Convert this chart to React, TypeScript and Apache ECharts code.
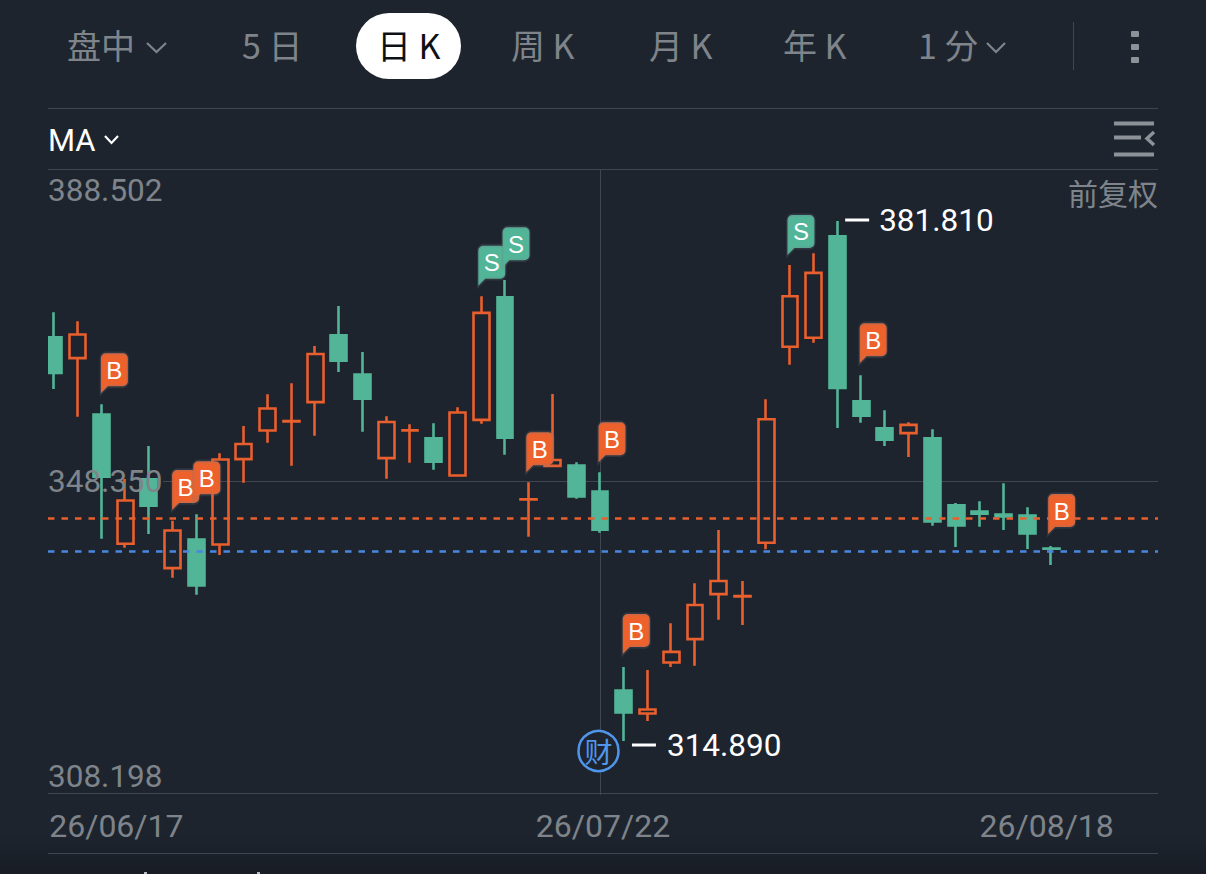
import React, { useEffect, useRef } from "react";
import * as echarts from "echarts";

const BG = "#1d242e";
const UP = "#e95f2d";
const DOWN = "#52b597";
const GREY = "#7f848b";
const RULE = "#3f4650";
const LATIN = "Roboto, 'Liberation Sans', sans-serif";
const FLAG_FONT = "'Liberation Sans', sans-serif";
const CJK = "'Noto Sans CJK SC', sans-serif";

const dates = [
  "26/06/17","26/06/18","26/06/22","26/06/23","26/06/24","26/06/25","26/06/26","26/06/29","26/06/30",
  "26/07/01","26/07/02","26/07/06","26/07/07","26/07/08","26/07/09","26/07/10","26/07/13","26/07/14",
  "26/07/15","26/07/16","26/07/17","26/07/20","26/07/21","26/07/22","26/07/23","26/07/24","26/07/27",
  "26/07/28","26/07/29","26/07/30","26/07/31","26/08/03","26/08/04","26/08/05","26/08/06","26/08/07",
  "26/08/10","26/08/11","26/08/12","26/08/13","26/08/14","26/08/17","26/08/18",
];
const futureSlots = ["26/08/19", "26/08/20", "26/08/21", "26/08/24"];

// [open, close, low, high]
const candles = [
  [366.85,362.27,360.19,370.06],[364.16,367.20,356.62,368.90],[356.91,348.89,340.92,358.22],
  [340.27,345.84,339.76,348.61],[348.58,345.16,341.53,352.85],[337.14,341.98,335.90,343.24],
  [340.82,334.90,333.72,344.06],[340.18,351.12,338.83,351.91],[351.17,353.12,348.13,355.43],
  [354.85,357.68,353.28,359.51],[356.02,356.05,350.32,360.92],[358.50,364.70,354.18,365.72],
  [367.11,363.82,362.38,370.87],[362.05,358.93,354.69,364.95],[351.30,355.95,348.64,356.67],
  [354.86,354.89,350.70,355.65],[353.86,350.82,349.80,355.77],[349.06,357.16,349.06,357.83],
  [356.22,369.98,355.72,372.12],[372.00,353.91,351.73,374.22],[345.98,346.01,341.18,348.18],
  [350.30,351.06,350.30,359.54],[350.34,346.35,346.07,350.76],[347.00,342.07,341.70,349.47],
  [321.39,318.56,314.89,324.41],[318.43,318.94,317.46,324.03],[324.99,326.36,324.41,330.04],
  [328.00,332.40,324.58,335.18],[333.79,335.49,330.50,342.04],[333.50,333.53,329.82,335.48],
  [340.40,356.30,339.56,358.86],[365.62,372.13,363.32,376.15],[366.78,375.13,366.15,377.65],
  [379.85,360.34,355.17,381.81],[358.62,356.74,355.85,361.95],[355.14,353.65,352.85,357.45],
  [354.51,355.57,351.44,355.90],[353.86,343.14,342.60,355.00],[345.23,342.62,339.86,345.52],
  [344.42,344.13,342.47,345.74],[344.04,343.78,342.04,348.05],[343.91,341.59,339.60,344.96],
  [339.67,339.65,337.54,339.98],
];

const yMin = 308.198;
const yMid = 348.35;
const yMax = 388.502;
const yTicks = [yMin, yMid, yMax];
const orangeLevel = 343.52;
const blueLevel = 339.34;
const highMark = 381.81;
const lowMark = 314.89;
const highIndex = 33;
const lowIndex = 24;
const eventIndex = 23;
const eventLevel = 313.6;

const flagIndex = [2, 5, 6, 18, 19, 20, 23, 24, 31, 34, 42];
const flagKind = ["B", "B", "B", "S", "S", "B", "B", "B", "S", "B", "B"];
const flagDx = [-0.5, -0.5, -3, -3, -2.5, -2.5, -1.5, -1, -2.5, -1.5, -3];
const flagGap = [11, 10.7, 13, 10.6, 12.7, 10, 10, 13, 10, 12, 12];

const shownLabels = [0, 23, 42];
const flagPath =
  "path://M5 0H22A5 5 0 0 1 27 5V28A5 5 0 0 1 22 33H7L0 40V5A5 5 0 0 1 5 0Z";

const navItem = (text: string, x: number, color = GREY, font = CJK) => ({
  type: "text",
  x,
  y: 44,
  style: { text, fill: color, font: `400 34px ${font}`, textVerticalAlign: "middle", textAlign: "left" },
});
const chevron = (x: number, y: number, w: number, h: number, stroke: string) => ({
  type: "polyline",
  shape: { points: [[x, y], [x + w / 2, y + h], [x + w, y]] },
  style: { stroke, lineWidth: 2.2, fill: "none" },
});
const rule = (x1: number, y: number, x2: number) => ({
  type: "line",
  shape: { x1, y1: y, x2, y2: y },
  style: { stroke: RULE, lineWidth: 1 },
});
const bar = (x: number, y: number, width: number, height: number, fill: any, r = 0) => ({
  type: "rect",
  shape: { x, y, width, height, r },
  style: { fill },
});

export default function App() {
  const ref = useRef<HTMLDivElement>(null);
  useEffect(() => {
    document.body.style.margin = "0";
    document.body.style.background = BG;
    const chart = echarts.init(ref.current!, undefined, { renderer: "svg" });
    const hline = (v: number, from = 48) => [
      { x: from, yAxis: v },
      { x: 1158, yAxis: v },
    ];
    chart.setOption({
      animation: false,
      backgroundColor: BG,
      grid: { left: 42, top: 169, width: 1116, height: 624, containLabel: false },
      xAxis: {
        type: "category",
        data: [...dates, ...futureSlots],
        boundaryGap: true,
        axisLine: { show: false },
        axisTick: { show: false },
        splitLine: { show: false },
        axisLabel: {
          interval: (i: number) => shownLabels.includes(i),
          margin: 17,
          formatter: (v: string, i: number) =>
            i === 0 ? `{a|${v}}` : i === 23 ? `{b|${v}}` : `{c|${v}}`,
          rich: {
            a: { fontFamily: LATIN, fontSize: 32, color: GREY, padding: [0, 0, 0, 125] },
            b: { fontFamily: LATIN, fontSize: 32, color: GREY, padding: [0, 0, 0, 6] },
            c: { fontFamily: LATIN, fontSize: 32, color: GREY, padding: [0, 9, 0, 0] },
          },
        },
      },
      yAxis: {
        type: "value",
        min: yMin,
        max: yMax,
        z: 4,
        axisLine: { show: false },
        axisTick: { show: false, customValues: yTicks },
        splitLine: { show: false },
        axisLabel: {
          inside: true,
          margin: 6,
          customValues: yTicks,
          verticalAlignMinLabel: "bottom",
          verticalAlignMaxLabel: "top",
          formatter: (v: number) =>
            v === yMax ? `{t|${v.toFixed(3)}}` : v === yMin ? `{b|${v.toFixed(3)}}` : `{m|${v.toFixed(3)}}`,
          rich: {
            t: { fontFamily: LATIN, fontSize: 31.5, color: GREY, padding: [5, 0, 0, 0] },
            m: { fontFamily: LATIN, fontSize: 31.5, color: GREY },
            b: { fontFamily: LATIN, fontSize: 31.5, color: GREY, padding: [0, 0, 1, 0] },
          },
        },
      },
      series: [
        {
          type: "line",
          data: [],
          z: 1,
          silent: true,
          markLine: {
            z: 1,
            silent: true,
            symbol: "none",
            label: { show: false },
            lineStyle: { color: RULE, width: 1, type: "solid" },
            data: [
              hline(yMax),
              hline(yMin),
              hline(yMid, 163),
              [
                { xAxis: eventIndex, y: 169 },
                { xAxis: eventIndex, y: 795 },
              ],
            ],
          },
        },
        {
          type: "candlestick",
          z: 2,
          barWidth: 16.4,
          data: candles,
          itemStyle: {
            color: "rgba(0,0,0,0)",
            color0: DOWN,
            borderColor: UP,
            borderColor0: DOWN,
            borderWidth: 2.6,
          },
          markLine: {
            z: 3,
            silent: true,
            symbol: "none",
            label: { show: false },
            data: [
              [
                { ...hline(orangeLevel)[0], lineStyle: { color: UP, width: 2.5, type: [6.5, 7] } },
                hline(orangeLevel)[1],
              ],
              [
                { ...hline(blueLevel)[0], lineStyle: { color: "#4a86e0", width: 2.5, type: [6.5, 7] } },
                hline(blueLevel)[1],
              ],
            ],
          },
          markPoint: {
            z: 5,
            silent: true,
            data: [
              ...flagIndex.map((idx, k) => ({
                coord: [idx, candles[idx][3]],
                symbol: flagPath,
                symbolSize: [27, 40],
                symbolOffset: [flagDx[k] + 13.5, -(flagGap[k] + 20)],
                itemStyle: {
                  color: flagKind[k] === "B" ? "#ec612c" : DOWN,
                  borderColor: "rgba(120,130,140,0.2)",
                  borderWidth: 3,
                },
                label: {
                  show: true,
                  formatter: flagKind[k],
                  position: "inside",
                  offset: [0, -3],
                  color: "#ffffff",
                  fontFamily: FLAG_FONT,
                  fontSize: 24,
                },
              })),
              {
                coord: [highIndex, highMark],
                symbol: "rect",
                symbolSize: [24, 3],
                symbolOffset: [19.7, -1],
                itemStyle: { color: "#ffffff" },
                label: {
                  show: true,
                  formatter: highMark.toFixed(3),
                  position: "right",
                  distance: 10,
                  color: "#ffffff",
                  fontFamily: LATIN,
                  fontSize: 31.5,
                },
              },
              {
                coord: [lowIndex, lowMark],
                symbol: "rect",
                symbolSize: [24, 3],
                symbolOffset: [20.2, 4],
                itemStyle: { color: "#ffffff" },
                label: {
                  show: true,
                  formatter: lowMark.toFixed(3),
                  position: "right",
                  distance: 11,
                  color: "#ffffff",
                  fontFamily: LATIN,
                  fontSize: 31.5,
                },
              },
              {
                coord: [eventIndex, eventLevel],
                symbol: "circle",
                symbolSize: 40,
                symbolOffset: [-1.5, 0],
                itemStyle: { color: BG, borderColor: "#4f96ea", borderWidth: 2.5 },
                label: {
                  show: true,
                  formatter: "财",
                  position: "inside",
                  color: "#4f96ea",
                  fontFamily: CJK,
                  fontSize: 28,
                },
              },
            ],
          },
        },
      ],
      graphic: [
        { ...bar(0, 160, 48, 640, BG), z: 50 },
        {
          ...bar(0, 834, 1206, 40, new echarts.graphic.LinearGradient(0, 0, 0, 1, [
            { offset: 0, color: BG },
            { offset: 1, color: "#181d25" },
          ])),
          z: 0,
        },
        { ...bar(356, 13, 105, 66, "#ffffff", 33), z: 1 },
        { ...navItem("盘中", 67), z: 2 },
        { ...chevron(147, 43, 19, 9, GREY), z: 2 },
        { ...navItem("5 日", 242), z: 2 },
        { ...navItem("日 K", 377, "#0d1117"), z: 2 },
        { ...navItem("周 K", 511), z: 2 },
        { ...navItem("月 K", 649), z: 2 },
        { ...navItem("年 K", 783), z: 2 },
        { ...navItem("1 分", 918), z: 2 },
        { ...chevron(987, 43, 18, 9, GREY), z: 2 },
        { type: "line", shape: { x1: 1073.5, y1: 22, x2: 1073.5, y2: 70 }, style: { stroke: RULE, lineWidth: 1 }, z: 2 },
        bar(1131, 31, 8, 6, "#8d9198", 1),
        bar(1131, 44, 8, 6, "#8d9198", 1),
        bar(1131, 57, 8, 6, "#8d9198", 1),
        { ...rule(48, 108.5, 1158), z: 1 },
        { ...rule(48, 853.5, 1158), z: 1 },
        { ...bar(144, 872, 3, 2, "#b8bcc2"), z: 1 },
        { ...bar(257, 872, 3, 2, "#b8bcc2"), z: 1 },
        {
          type: "text",
          x: 48,
          y: 140,
          style: { text: "MA", fill: "#ffffff", font: `400 31px ${LATIN}`, textVerticalAlign: "middle" },
        },
        chevron(105, 136, 13, 7, "#ffffff"),
        bar(1114, 121.5, 40, 4, "#8d9198"),
        bar(1114, 135.5, 27, 4, "#8d9198"),
        bar(1114, 152.5, 40, 4, "#8d9198"),
        {
          type: "polyline",
          shape: { points: [[1154, 132], [1147, 138.5], [1154, 145]] },
          style: { stroke: "#8d9198", lineWidth: 3.5, fill: "none" },
        },
        {
          type: "text",
          x: 1158,
          y: 192,
          z: 6,
          style: { text: "前复权", fill: GREY, font: `400 30px ${CJK}`, textAlign: "right", textVerticalAlign: "middle" },
        },
      ],
    });
    return () => chart.dispose();
  }, []);
  return (
    <div
      ref={ref}
      style={{ position: "fixed", left: 0, top: 0, width: 1206, height: 874, background: BG }}
    />
  );
}
